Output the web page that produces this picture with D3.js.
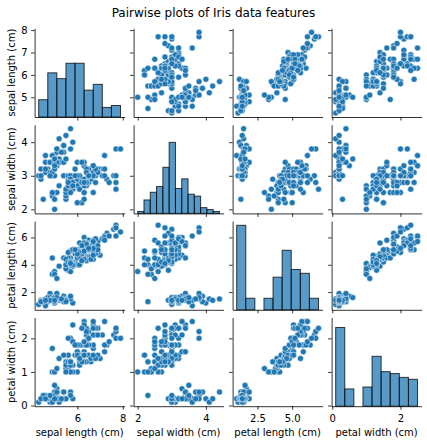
<!DOCTYPE html>
<html><head><meta charset="utf-8">
<script src="https://cdn.jsdelivr.net/npm/d3@7"></script>
<style>body{margin:0;background:#fff}</style>
</head><body>
<svg id="c" width="427" height="445"></svg>
<script>
const title = "Pairwise plots of Iris data features";
const features = ["sepal length (cm)", "sepal width (cm)", "petal length (cm)", "petal width (cm)"];
const sepalLength = [5.1,4.9,4.7,4.6,5.0,5.4,4.6,5.0,4.4,4.9,5.4,4.8,4.8,4.3,5.8,5.7,5.4,5.1,5.7,5.1,5.4,5.1,4.6,5.1,4.8,5.0,5.0,5.2,5.2,4.7,4.8,5.4,5.2,5.5,4.9,5.0,5.5,4.9,4.4,5.1,5.0,4.5,4.4,5.0,5.1,4.8,5.1,4.6,5.3,5.0,
7.0,6.4,6.9,5.5,6.5,5.7,6.3,4.9,6.6,5.2,5.0,5.9,6.0,6.1,5.6,6.7,5.6,5.8,6.2,5.6,5.9,6.1,6.3,6.1,6.4,6.6,6.8,6.7,6.0,5.7,5.5,5.5,5.8,6.0,5.4,6.0,6.7,6.3,5.6,5.5,5.5,6.1,5.8,5.0,5.6,5.7,5.7,6.2,5.1,5.7,
6.3,5.8,7.1,6.3,6.5,7.6,4.9,7.3,6.7,7.2,6.5,6.4,6.8,5.7,5.8,6.4,6.5,7.7,7.7,6.0,6.9,5.6,7.7,6.3,6.7,7.2,6.2,6.1,6.4,7.2,7.4,7.9,6.4,6.3,6.1,7.7,6.3,6.4,6.0,6.9,6.7,6.9,5.8,6.8,6.7,6.7,6.3,6.5,6.2,5.9];
const sepalWidth = [3.5,3.0,3.2,3.1,3.6,3.9,3.4,3.4,2.9,3.1,3.7,3.4,3.0,3.0,4.0,4.4,3.9,3.5,3.8,3.8,3.4,3.7,3.6,3.3,3.4,3.0,3.4,3.5,3.4,3.2,3.1,3.4,4.1,4.2,3.1,3.2,3.5,3.6,3.0,3.4,3.5,2.3,3.2,3.5,3.8,3.0,3.8,3.2,3.7,3.3,
3.2,3.2,3.1,2.3,2.8,2.8,3.3,2.4,2.9,2.7,2.0,3.0,2.2,2.9,2.9,3.1,3.0,2.7,2.2,2.5,3.2,2.8,2.5,2.8,2.9,3.0,2.8,3.0,2.9,2.6,2.4,2.4,2.7,2.7,3.0,3.4,3.1,2.3,3.0,2.5,2.6,3.0,2.6,2.3,2.7,3.0,2.9,2.9,2.5,2.8,
3.3,2.7,3.0,2.9,3.0,3.0,2.5,2.9,2.5,3.6,3.2,2.7,3.0,2.5,2.8,3.2,3.0,3.8,2.6,2.2,3.2,2.8,2.8,2.7,3.3,3.2,2.8,3.0,2.8,3.0,2.8,3.8,2.8,2.8,2.6,3.0,3.4,3.1,3.0,3.1,3.1,3.1,2.7,3.2,3.3,3.0,2.5,3.0,3.4,3.0];
const petalLength = [1.4,1.4,1.3,1.5,1.4,1.7,1.4,1.5,1.4,1.5,1.5,1.6,1.4,1.1,1.2,1.5,1.3,1.4,1.7,1.5,1.7,1.5,1.0,1.7,1.9,1.6,1.6,1.5,1.4,1.6,1.6,1.5,1.5,1.4,1.5,1.2,1.3,1.4,1.3,1.5,1.3,1.3,1.3,1.6,1.9,1.4,1.6,1.4,1.5,1.4,
4.7,4.5,4.9,4.0,4.6,4.5,4.7,3.3,4.6,3.9,3.5,4.2,4.0,4.7,3.6,4.4,4.5,4.1,4.5,3.9,4.8,4.0,4.9,4.7,4.3,4.4,4.8,5.0,4.5,3.5,3.8,3.7,3.9,5.1,4.5,4.5,4.7,4.4,4.1,4.0,4.4,4.6,4.0,3.3,4.2,4.2,4.2,4.3,3.0,4.1,
6.0,5.1,5.9,5.6,5.8,6.6,4.5,6.3,5.8,6.1,5.1,5.3,5.5,5.0,5.1,5.3,5.5,6.7,6.9,5.0,5.7,4.9,6.7,4.9,5.7,6.0,4.8,4.9,5.6,5.8,6.1,6.4,5.6,5.1,5.6,6.1,5.6,5.5,4.8,5.4,5.6,5.1,5.1,5.9,5.7,5.2,5.0,5.2,5.4,5.1];
const petalWidth = [0.2,0.2,0.2,0.2,0.2,0.4,0.3,0.2,0.2,0.1,0.2,0.2,0.1,0.1,0.2,0.4,0.4,0.3,0.3,0.3,0.2,0.4,0.2,0.5,0.2,0.2,0.4,0.2,0.2,0.2,0.2,0.4,0.1,0.2,0.2,0.2,0.2,0.1,0.2,0.2,0.3,0.3,0.2,0.6,0.4,0.3,0.2,0.2,0.2,0.2,
1.4,1.5,1.5,1.3,1.5,1.3,1.6,1.0,1.3,1.4,1.0,1.5,1.0,1.4,1.3,1.4,1.5,1.0,1.5,1.1,1.8,1.3,1.5,1.2,1.3,1.4,1.4,1.7,1.5,1.0,1.1,1.0,1.2,1.6,1.5,1.6,1.5,1.3,1.3,1.3,1.2,1.4,1.2,1.0,1.3,1.2,1.3,1.3,1.1,1.3,
2.5,1.9,2.1,1.8,2.2,2.1,1.7,1.8,1.8,2.5,2.0,1.9,2.1,2.0,2.4,2.3,1.8,2.2,2.3,1.5,2.3,2.0,2.0,1.8,2.1,1.8,1.8,1.8,2.1,1.6,1.9,2.0,2.2,1.5,1.4,2.3,2.4,1.8,1.8,2.1,2.4,2.3,1.9,2.3,2.5,2.3,1.9,2.0,2.3,1.8];
const histBinCounts = [9, 13, 9, 9];
const yTickValues = [[5,6,7,8],[2,3,4],[2,4,6],[0,1,2]];
const xTickValues = [[6,8],[2,4],[2.5,5.0],[0,2]];
const xTickFormats = ["d","d",".1f","d"];

const columns = [sepalLength, sepalWidth, petalLength, petalWidth];
const FONT = "DejaVu Sans";
const BLUE = "#1f77b4";
const L0 = 34.6, CW = 90, CSTEP = 99;
const T0 = 28.3, RH = 88.7, RSTEP = 96.4;

const svg = d3.select("#c");

// numpy-like uniform histogram
function npHist(vals, n) {
  const lo = d3.min(vals), hi = d3.max(vals);
  const step = (hi - lo) / n;
  const edges = d3.range(n + 1).map(k => k * step + lo);
  edges[n] = hi;
  const counts = new Array(n).fill(0);
  const norm = n / (hi - lo);
  vals.forEach(v => {
    let i = Math.floor((v - lo) * norm);
    if (i === n) i--;
    if (v < edges[i]) i--;
    if (i !== n - 1 && v >= edges[i + 1]) i++;
    counts[i]++;
  });
  return counts.map((c, i) => ({x0: edges[i], x1: edges[i + 1], count: c}));
}

const scalesX = columns.map(v => {
  const [lo, hi] = d3.extent(v), m = 0.05 * (hi - lo);
  return d3.scaleLinear().domain([lo - m, hi + m]).range([0, CW]);
});
const scalesY = columns.map(v => {
  const [lo, hi] = d3.extent(v), m = 0.05 * (hi - lo);
  return d3.scaleLinear().domain([lo - m, hi + m]).range([RH, 0]);
});
const hists = columns.map((v, i) => npHist(v, histBinCounts[i]));
const maxCount = d3.max(hists, h => d3.max(h, b => b.count));
const histY = d3.scaleLinear().domain([0, maxCount * 1.05]).range([RH, 0]);

svg.append("text").attr("x", 213.5).attr("y", 17.3).attr("text-anchor", "middle")
  .attr("font-family", FONT).attr("font-size", 12).attr("fill", "#000").text(title);

for (let r = 0; r < 4; r++) {
  for (let c = 0; c < 4; c++) {
    const g = svg.append("g").attr("transform", `translate(${L0 + c * CSTEP},${T0 + r * RSTEP})`);
    const xs = scalesX[c], ys = scalesY[r];
    if (r === c) {
      g.selectAll("rect").data(hists[c]).enter().append("rect")
        .attr("x", d => xs(d.x0)).attr("width", d => xs(d.x1) - xs(d.x0))
        .attr("y", d => histY(d.count)).attr("height", d => RH - histY(d.count))
        .attr("fill", BLUE).attr("fill-opacity", 0.75)
        .attr("stroke", "#000").attr("stroke-opacity", 0.75).attr("stroke-width", 1)
        .style("display", d => d.count > 0 ? null : "none");
    } else {
      const pts = d3.range(columns[c].length);
      g.selectAll("circle").data(pts).enter().append("circle")
        .attr("cx", i => xs(columns[c][i])).attr("cy", i => ys(columns[r][i]))
        .attr("r", 3).attr("fill", BLUE).attr("stroke", "#fff").attr("stroke-width", 0.5);
    }
    const ax = d3.axisBottom(xs).tickValues(xTickValues[c]).tickSize(3.5).tickSizeOuter(0).tickPadding(3.5)
      .tickFormat(r === 3 ? d3.format(xTickFormats[c]) : () => "");
    const ay = d3.axisLeft(ys).tickValues(yTickValues[r]).tickSize(3.5).tickSizeOuter(0).tickPadding(3.5)
      .tickFormat(c === 0 ? d3.format("d") : () => "");
    const gx = g.append("g").attr("transform", `translate(0,${RH})`).call(ax);
    const gy = g.append("g").call(ay);
    [gx, gy].forEach(a => {
      a.selectAll("path,line").attr("stroke", "#000").attr("stroke-width", 0.8);
      a.selectAll("text").attr("font-family", FONT).attr("font-size", 10).attr("fill", "#000");
    });
    gx.selectAll("text").attr("dy", "0.85em");
  }
}

// axis labels
features.forEach((f, i) => {
  svg.append("text").attr("x", L0 + i * CSTEP + CW / 2).attr("y", 435.5)
    .attr("text-anchor", "middle").attr("font-family", FONT).attr("font-size", 10).attr("fill", "#000").text(f);
  svg.append("text").attr("transform", `translate(15,${T0 + i * RSTEP + RH / 2}) rotate(-90)`)
    .attr("text-anchor", "middle").attr("font-family", FONT).attr("font-size", 10).attr("fill", "#000").text(f);
});
</script>
</body></html>
